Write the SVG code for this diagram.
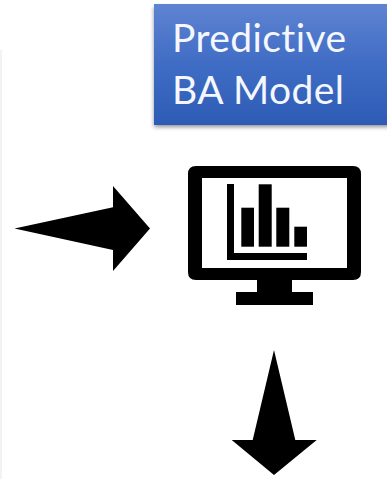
<svg xmlns="http://www.w3.org/2000/svg" width="387" height="479" viewBox="0 0 387 479">
<style>
.label{font-family:"Lato","Open Sans",sans-serif;font-size:39px;fill:#f4f7fd;font-variant-ligatures:none;letter-spacing:.4px}
.ink{fill:#000}
</style>
<defs>
<linearGradient id="boxFill" x1="0" y1="0" x2="0" y2="1">
<stop offset="0" stop-color="#5f84d2"/>
<stop offset="0.5" stop-color="#3f6cc4"/>
<stop offset="1" stop-color="#2e5bb5"/>
</linearGradient>
<filter id="blur" x="-10%" y="-20%" width="120%" height="140%"><feGaussianBlur stdDeviation="2.2"/></filter>
</defs>
<rect width="387" height="479" fill="#fff"/>
<rect id="edge" x="0" y="50" width="2" height="429" fill="#f3f3f3"/>
<g id="node-model">
<rect x="154" y="7" width="240" height="120" fill="#555" opacity="0.65" filter="url(#blur)"/>
<rect x="154" y="4" width="233" height="121" fill="url(#boxFill)"/>
<text class="label" x="172" y="52">Predictive</text>
<text class="label" x="172" y="104">BA Model</text>
</g>
<g id="node-monitor" class="ink">
<path fill-rule="evenodd" d="M196 166H353Q361 166 361 174V272Q361 280 353 280H292V292H313V305H236V292H257V280H196Q188 280 188 272V174Q188 166 196 166ZM202 178V268H347V178Z"/>
<path d="M227 184H234V253H307V260H227Z"/>
<rect x="241.300" y="207.700" width="12.700" height="39"/>
<rect x="258.700" y="184.300" width="13" height="62.400"/>
<rect x="276.300" y="207.700" width="13" height="39"/>
<rect x="294.300" y="226.700" width="12.700" height="20"/>
</g>
<g id="connectors" class="ink">
<path d="M14.500 228.500L113 207.300V186L150 228.500L113 271V250Z"/>
<path d="M274 350L295.300 440H316.700L274 475L231.700 440H252.700Z"/>
</g>
</svg>
